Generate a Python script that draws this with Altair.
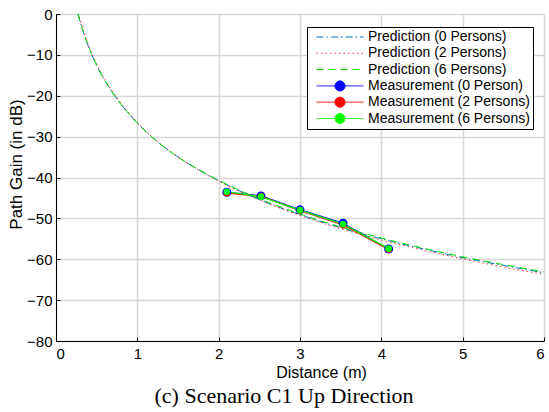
import altair as alt
import pandas as pd

# Predicted path gain curves (dB) against distance (m)
dist_pred = [0.27, 0.3, 0.35, 0.4, 0.5, 0.6, 0.7, 0.8, 1.0, 1.25, 1.5, 1.75,
             2.0, 2.5, 3.0, 3.5, 4.0, 4.5, 5.0, 5.5, 6.0]
pred_0 = [0.0, -2.1, -5.3, -8.0, -12.6, -16.3, -19.4, -22.1, -26.7, -31.3, -35.0,
          -38.1, -40.8, -45.4, -49.1, -52.3, -55.0, -57.4, -59.6, -61.5, -63.3]
pred_2 = [0.4, -1.6, -4.8, -7.6, -12.2, -16.0, -19.1, -21.8, -26.5, -31.2, -34.9,
          -38.1, -40.9, -45.5, -49.3, -52.5, -55.3, -57.7, -59.9, -61.9, -63.7]
pred_6 = [0.0, -2.1, -5.3, -8.0, -12.6, -16.3, -19.4, -22.1, -26.7, -31.3, -35.0,
          -38.0, -40.7, -45.2, -48.9, -52.1, -54.8, -57.2, -59.4, -61.3, -63.1]

# Measured path gain (dB)
dist_meas = [2.1, 2.52, 3.0, 3.53, 4.09]
meas_0 = [-43.6, -44.5, -47.9, -51.2, -57.5]
meas_2 = [-43.8, -44.6, -48.1, -51.6, -57.6]
meas_6 = [-43.5, -44.7, -48.0, -51.4, -57.4]

series_names = [
    "Prediction (0 Persons)",
    "Prediction (2 Persons)",
    "Prediction (6 Persons)",
    "Measurement (0 Person)",
    "Measurement (2 Persons)",
    "Measurement (6 Persons)",
]
series_colors = ["#0072BD", "#ff3030", "#00e000", "#0000ff", "#ff0000", "#00ff00"]
series_dashes = [[7, 3, 1.5, 3], [1.5, 3], [7, 5], [1, 0], [1, 0], [1, 0]]

# legend glyphs: plain stroke for predictions, stroke with a dot for measurements
line_glyph = "M-4,0L4,0"
dot_glyph = "M-4,0L4,0M0.85,0A0.85,0.85,0,1,1,-0.85,0A0.85,0.85,0,1,1,0.85,0Z"
series_glyphs = [line_glyph] * 3 + [dot_glyph] * 3

pred_rows = []
for name, vals in zip(series_names[:3], [pred_0, pred_2, pred_6]):
    for d, v in zip(dist_pred, vals):
        pred_rows.append({"series": name, "d": d, "pg": v})
pred_df = pd.DataFrame(pred_rows)

meas_rows = []
for name, vals in zip(series_names[3:], [meas_0, meas_2, meas_6]):
    for d, v in zip(dist_meas, vals):
        meas_rows.append({"series": name, "d": d, "pg": v})
meas_df = pd.DataFrame(meas_rows)

W, H = 488, 327

color_scale = alt.Scale(domain=series_names, range=series_colors)
dash_scale = alt.Scale(domain=series_names, range=series_dashes)
shape_scale = alt.Scale(domain=series_names, range=series_glyphs)

x_scale = alt.Scale(domain=[0, 6], nice=False)
y_scale = alt.Scale(domain=[-80, 0], nice=False)

x_axis = alt.Axis(
    values=[0, 1, 2, 3, 4, 5, 6], format="d", title="Distance (m)",
    titleX=265, titleY=36, titleBaseline="alphabetic",
    titleFont="Liberation Sans", titleFontSize=16, titleFontWeight="normal",
    labelFont="Liberation Sans", labelFontSize=15, labelPadding=5,
    ticks=False, domainColor="black", domainWidth=1,
    grid=True, gridColor="#d6d6d6", gridWidth=1.5,
)
y_axis = alt.Axis(
    values=list(range(-80, 1, 10)), format="d", title="Path Gain (in dB)",
    titleX=-35, titleY=150, titleBaseline="alphabetic", titleAngle=-90,
    titleFont="Liberation Sans", titleFontSize=17, titleFontWeight="normal",
    labelFont="Liberation Sans", labelFontSize=15, labelPadding=4,
    ticks=False, domainColor="black", domainWidth=1,
    grid=True, gridColor="#d6d6d6", gridWidth=1.5,
)
# short inward ticks along the left and bottom edges
x_tick_axis = alt.Axis(
    orient="top", offset=-H, values=[0, 1, 2, 3, 4, 5, 6], labels=False,
    title=None, domain=False, grid=False, ticks=True, tickSize=4,
    tickColor="black", tickWidth=1,
)
y_tick_axis = alt.Axis(
    orient="right", offset=-W, values=list(range(-80, 1, 10)), labels=False,
    title=None, domain=False, grid=False, ticks=True, tickSize=4,
    tickColor="black", tickWidth=1,
)

legend = alt.Legend(
    title=None, orient="none", legendX=251, legendY=13,
    strokeColor="black", fillColor="white", padding=3, cornerRadius=0,
    labelFont="Liberation Sans", labelFontSize=14, labelColor="black",
    symbolSize=138, symbolStrokeWidth=1, symbolOffset=23, labelOffset=21,
    rowPadding=2.3, labelLimit=400,
)

# empty layer carrying the glyph shapes for the legend
legend_layer = alt.Chart(meas_df).transform_filter("false").mark_point(
    filled=True, opacity=1
).encode(
    x=alt.X("d:Q", scale=x_scale, axis=x_axis),
    y=alt.Y("pg:Q", scale=y_scale, axis=y_axis),
    color=alt.Color("series:N", scale=color_scale, legend=legend, sort=series_names),
    shape=alt.Shape("series:N", scale=shape_scale, legend=legend, sort=series_names),
    strokeDash=alt.StrokeDash("series:N", scale=dash_scale, legend=legend, sort=series_names),
)

pred_layer = alt.Chart(pred_df).mark_line(
    clip=True, strokeWidth=1, interpolate="monotone"
).encode(
    x=alt.X("d:Q", scale=x_scale, axis=None),
    y=alt.Y("pg:Q", scale=y_scale, axis=None),
    color=alt.Color("series:N", scale=color_scale, legend=legend, sort=series_names),
    strokeDash=alt.StrokeDash("series:N", scale=dash_scale, legend=legend, sort=series_names),
    order="d:Q",
)

meas_line = alt.Chart(meas_df).mark_line(strokeWidth=1.3).encode(
    x=alt.X("d:Q", scale=x_scale, axis=None),
    y=alt.Y("pg:Q", scale=y_scale, axis=None),
    color=alt.Color("series:N", scale=color_scale, legend=legend, sort=series_names),
    strokeDash=alt.StrokeDash("series:N", scale=dash_scale, legend=legend, sort=series_names),
    order="d:Q",
)

# blue markers drawn first and slightly larger, red and green on top
meas_pts_0 = alt.Chart(meas_df).transform_filter(
    alt.datum.series == series_names[3]
).mark_circle(size=80, opacity=1).encode(
    x=alt.X("d:Q", scale=x_scale, axis=x_tick_axis),
    y=alt.Y("pg:Q", scale=y_scale, axis=y_tick_axis),
    color=alt.Color("series:N", scale=color_scale, legend=legend, sort=series_names),
)
meas_pts_rest = alt.Chart(meas_df).transform_filter(
    alt.datum.series != series_names[3]
).mark_circle(size=45, opacity=1).encode(
    x=alt.X("d:Q", scale=x_scale, axis=None),
    y=alt.Y("pg:Q", scale=y_scale, axis=None),
    color=alt.Color("series:N", scale=color_scale, legend=legend, sort=series_names),
)

chart = alt.layer(
    legend_layer, pred_layer, meas_line, meas_pts_0, meas_pts_rest
).resolve_axis(
    x="independent", y="independent"
).properties(
    width=W, height=H,
    autosize=alt.AutoSizeParams(type="none"),
    padding={"left": 56, "top": 14, "right": 5, "bottom": 71},
    title=alt.TitleParams(
        "(c)  Scenario C1 Up Direction", orient="bottom", anchor="middle",
        font="Liberation Serif", fontSize=22, fontWeight="normal", color="black",
        dx=-16, offset=6,
    ),
).configure_view(stroke=None).configure(background="white")

chart.save("out.html", embed_options={"renderer": "svg", "actions": False})
